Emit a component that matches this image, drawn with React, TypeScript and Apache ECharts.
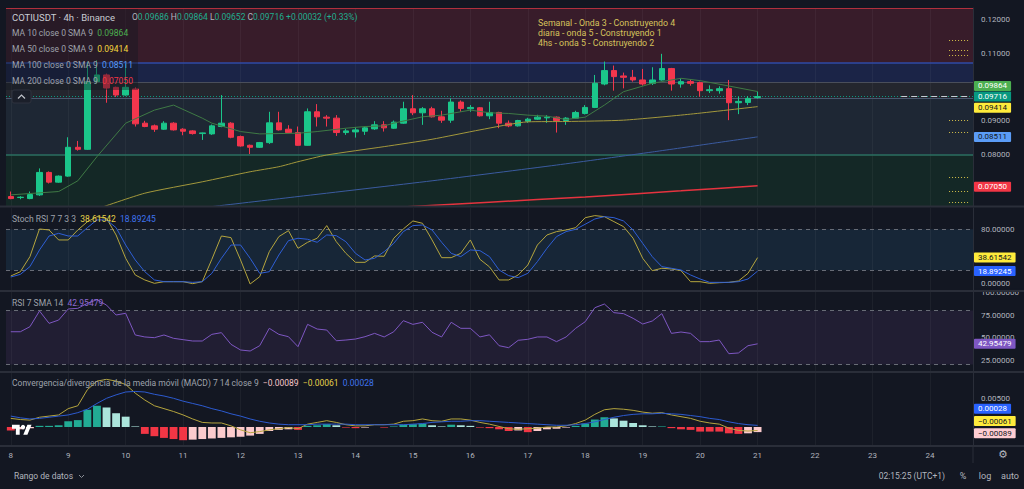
import React, { useEffect, useRef } from 'react';
import * as echarts from 'echarts';

const FONT = 'Roboto, "Noto Sans", sans-serif';

// ---------- data ----------
const dayLabels = ['8', '9', '10', '11', '12', '13', '14', '15', '16', '17', '18', '19', '20', '21', '22', '23', '24'];
const SLOTS_PER_DAY = 6;
const TOTAL_SLOTS = 101;

// [open, high, low, close] per 4h candle
const ohlc: number[][] = [
  [0.0673, 0.0688, 0.0665, 0.0667], [0.0670, 0.0674, 0.0665, 0.0671], [0.0667, 0.0688, 0.0665, 0.0679],
  [0.0678, 0.0757, 0.0675, 0.0745], [0.0745, 0.0748, 0.0712, 0.0716], [0.0716, 0.0736, 0.0714, 0.0734],
  [0.0734, 0.0850, 0.0732, 0.0820], [0.0820, 0.0839, 0.0810, 0.0814], [0.0814, 0.1075, 0.0812, 0.1016],
  [0.1016, 0.1080, 0.1010, 0.1036], [0.1036, 0.1040, 0.0953, 0.0997], [0.0999, 0.1001, 0.0970, 0.0976],
  [0.0976, 0.1070, 0.0974, 0.0999], [0.0994, 0.0999, 0.0882, 0.0890], [0.0892, 0.0899, 0.0880, 0.0882],
  [0.0884, 0.0888, 0.0866, 0.0874], [0.0874, 0.0898, 0.0872, 0.0892], [0.0892, 0.0895, 0.0870, 0.0872],
  [0.0874, 0.0877, 0.0856, 0.0868], [0.0869, 0.0871, 0.0858, 0.0861], [0.0861, 0.0864, 0.0842, 0.0863],
  [0.0860, 0.0888, 0.0857, 0.0884], [0.0882, 0.0976, 0.0880, 0.0892], [0.0892, 0.0895, 0.0847, 0.0850],
  [0.0852, 0.0855, 0.0822, 0.0824], [0.0826, 0.0828, 0.0800, 0.0820], [0.0820, 0.0836, 0.0818, 0.0834],
  [0.0834, 0.0926, 0.0830, 0.0893], [0.0893, 0.0926, 0.0870, 0.0872], [0.0874, 0.0886, 0.0862, 0.0864],
  [0.0864, 0.0882, 0.0825, 0.0826], [0.0826, 0.0936, 0.0825, 0.0926], [0.0926, 0.0949, 0.0882, 0.0911],
  [0.0910, 0.0916, 0.0882, 0.0907], [0.0907, 0.0916, 0.0854, 0.0864], [0.0864, 0.0875, 0.0857, 0.0869],
  [0.0866, 0.0880, 0.0849, 0.0872], [0.0868, 0.0882, 0.0857, 0.0878], [0.0875, 0.0898, 0.0872, 0.0887],
  [0.0887, 0.0898, 0.0867, 0.0878], [0.0877, 0.0900, 0.0875, 0.0895], [0.0892, 0.0956, 0.0890, 0.0935],
  [0.0935, 0.0976, 0.0916, 0.0923], [0.0923, 0.0940, 0.0887, 0.0935], [0.0935, 0.0941, 0.0909, 0.0911],
  [0.0911, 0.0929, 0.0893, 0.0901], [0.0901, 0.0966, 0.0893, 0.0955], [0.0955, 0.0960, 0.0926, 0.0936],
  [0.0935, 0.0946, 0.0926, 0.0939], [0.0938, 0.0940, 0.0912, 0.0914], [0.0914, 0.0956, 0.0904, 0.0924],
  [0.0924, 0.0926, 0.0877, 0.0892], [0.0892, 0.0900, 0.0880, 0.0884], [0.0884, 0.0902, 0.0882, 0.0900],
  [0.0898, 0.0908, 0.0893, 0.0904], [0.0904, 0.0917, 0.0902, 0.0910], [0.0908, 0.0916, 0.0893, 0.0910],
  [0.0910, 0.0912, 0.0864, 0.0900], [0.0900, 0.0910, 0.0887, 0.0907], [0.0907, 0.0929, 0.0905, 0.0924],
  [0.0921, 0.0946, 0.0918, 0.0939], [0.0939, 0.1036, 0.0937, 0.1011], [0.1009, 0.1076, 0.1005, 0.1049],
  [0.1049, 0.1064, 0.0989, 0.1031], [0.1033, 0.1043, 0.0996, 0.1029], [0.1029, 0.1051, 0.1016, 0.1021],
  [0.1021, 0.1054, 0.1004, 0.1009], [0.1011, 0.1059, 0.1006, 0.1021], [0.1021, 0.1099, 0.1019, 0.1055],
  [0.1055, 0.1057, 0.0989, 0.1009], [0.1009, 0.1026, 0.0998, 0.1016], [0.1016, 0.1023, 0.1004, 0.1011],
  [0.1013, 0.1016, 0.0971, 0.0989], [0.0989, 0.1005, 0.0982, 0.0992], [0.0989, 0.1002, 0.0980, 0.0995],
  [0.0995, 0.1021, 0.0901, 0.0953], [0.0953, 0.0971, 0.0919, 0.0957], [0.0954, 0.0973, 0.0946, 0.0966],
  [0.09686, 0.09864, 0.09652, 0.09716],
];

// moving averages: [candle index, value]
const ma10: number[][] = [
  [0, 0.0678], [5, 0.0688], [7, 0.0720], [9, 0.0792], [12, 0.0892], [15, 0.0931], [17, 0.0946], [20, 0.0907],
  [21, 0.0892], [24, 0.0867], [26, 0.0860], [30, 0.0862], [32, 0.0867], [35, 0.0877], [37, 0.0882], [39, 0.0884],
  [40, 0.0892], [43, 0.0911], [45, 0.0916], [48, 0.0931], [50, 0.0923], [52, 0.0921], [54, 0.0916], [56, 0.0913],
  [58, 0.0903], [60, 0.0910], [62, 0.0946], [64, 0.0986], [67, 0.1011], [70, 0.1026], [72, 0.1019], [75, 0.1003],
  [77, 0.0992], [78, 0.09864],
];
const ma50: number[][] = [
  [9, 0.0636], [14, 0.0683], [20, 0.0717], [25, 0.0747], [28, 0.0762], [30, 0.0777], [33, 0.0797], [39, 0.0822],
  [44, 0.0844], [49, 0.0872], [54, 0.0896], [58, 0.0897], [64, 0.0901], [71, 0.0919], [78, 0.09414],
];
const ma100: number[][] = [[19, 0.0637], [21, 0.0643], [30, 0.0673], [44, 0.0720], [57, 0.0767], [67, 0.0806], [78, 0.08511]];
const ma200: number[][] = [[40, 0.0640], [50, 0.0656], [60, 0.0672], [70, 0.0690], [78, 0.0705]];

const stochK = [
  11.7, 18, 40, 80.5, 79, 64.4, 64.4, 79, 91, 98.5,
  96, 71.7, 37.6, 13.2, 5.9, 1, 3.4, 3.4, 3.4, 0.5,
  3.4, 36.1, 70.2, 67.8, 35.1, 0, 10.7, 47.3, 69.3, 78,
  52.2, 61, 66.9, 85.4, 61.9, 44.9, 31.7, 31.7, 41, 40.5,
  66.9, 80.5, 92.2, 88.8, 64.4, 38.5, 38.5, 44.9, 64.4, 36.1,
  25, 5.9, 5.9, 13.2, 27.8, 57, 71.7, 76.6, 79, 82.4,
  97, 100, 98.5, 91.2, 83.9, 66.9, 37.6, 19.5, 23, 22,
  19.5, 3.4, 3.4, 1, 1.9, 2.4, 4.4, 15.6, 38.61542,
];
const stochD = [
  10.2, 14.1, 25.4, 49.8, 70.2, 74.1, 70.2, 70.2, 82.4, 93.7,
  93.7, 82.4, 57, 35.1, 18, 5.9, 3.4, 3.4, 3.4, 2.4,
  3.4, 15.6, 37.6, 57, 57, 37.6, 15.6, 18, 42.4, 63.4,
  66.9, 65.4, 61, 71.7, 70.7, 61.9, 44.9, 35.1, 37.6, 47.3,
  59.5, 76.6, 85.4, 86.3, 79, 61, 44.9, 40, 49.8, 48.8,
  40, 20.5, 12.2, 9.3, 15.6, 32.7, 52.2, 69.3, 76.6, 80,
  87.4, 95.1, 98.5, 97, 92.2, 79, 59.5, 40, 25.4, 23,
  20.5, 13.2, 7.3, 2.4, 2.4, 2.4, 3.4, 7.3, 18.89245,
];
const rsi = [
  56.4, 56.4, 62.0, 79.4, 65.7, 69.4, 81.7, 82.4, 88, 92,
  86, 75.0, 76.9, 52.8, 50.6, 49.8, 52.8, 49.1, 47.6, 46.1,
  46.1, 53.5, 55.4, 42.4, 36.1, 35.0, 40.9, 60.2, 53.5, 50.9,
  39.8, 64.6, 59.4, 58.3, 46.4, 47.2, 48.3, 50.9, 54.6, 50.6,
  56.4, 68.7, 64.6, 66.9, 55.8, 50.6, 66.9, 60.2, 60.2, 50.6,
  53.0, 40.9, 38.7, 46.9, 48.0, 50.6, 50.6, 45.4, 50.6, 60.2,
  67.6, 83.1, 87.2, 77.6, 76.5, 71.3, 65.0, 68.3, 76.5, 54.6,
  56.1, 54.6, 45.4, 45.4, 47.2, 32.0, 32.8, 40.9, 42.95479,
];
const macdLine = [
  0.0015, 0.0013, 0.0012, 0.0017, 0.0019, 0.0021, 0.0032, 0.0037, 0.0065, 0.0080,
  0.0083, 0.0080, 0.0074, 0.0059, 0.0047, 0.0037, 0.0032, 0.0027, 0.0021, 0.0014,
  0.0008, 0.0007, 0.0007, 0.0002, -0.0005, -0.0010, -0.0008, -0.0005, -0.0003, -0.0001,
  -0.0003, 0.0005, 0.0008, 0.0011, 0.0008, 0.0004, 0.0002, 0.0002, 0.0004, 0.0004,
  0.0005, 0.0010, 0.0011, 0.0014, 0.0011, 0.0010, 0.0014, 0.0014, 0.0012, 0.0008,
  0.0005, 0.0001, -0.0003, -0.0004, -0.0003, -0.0002, 0.0000, 0.0000, 0.0002, 0.0006,
  0.0012, 0.0022, 0.0030, 0.0032, 0.0031, 0.0029, 0.0026, 0.0024, 0.0025, 0.0021,
  0.0018, 0.0015, 0.0010, 0.0007, 0.0005, -0.0002, -0.0006, -0.0007, -0.00061,
];
const macdSignal = [
  0.0019, 0.0016, 0.0014, 0.0015, 0.0017, 0.0019, 0.0021, 0.0025, 0.0031, 0.0041,
  0.0050, 0.0056, 0.0061, 0.0062, 0.0061, 0.0057, 0.0054, 0.0050, 0.0045, 0.0041,
  0.0037, 0.0032, 0.0028, 0.0023, 0.0019, 0.0014, 0.0010, 0.0007, 0.0005, 0.0004,
  0.0004, 0.0004, 0.0005, 0.0005, 0.0005, 0.0005, 0.0004, 0.0004, 0.0004, 0.0004,
  0.0004, 0.0004, 0.0005, 0.0006, 0.0008, 0.0009, 0.0010, 0.0010, 0.0011, 0.0011,
  0.0010, 0.0009, 0.0008, 0.0007, 0.0006, 0.0005, 0.0004, 0.0003, 0.0003, 0.0004,
  0.0006, 0.0009, 0.0013, 0.0017, 0.0020, 0.0022, 0.0023, 0.0023, 0.0024, 0.0023,
  0.0022, 0.0020, 0.0018, 0.0015, 0.0013, 0.0009, 0.0006, 0.0004, 0.00028,
];
const macdHist = [
  -0.0006, -0.0004, -0.0002, 0.0002, 0.0002, 0.0003, 0.0010, 0.0012, 0.0030, 0.0037,
  0.0034, 0.0024, 0.0018, 0.0001, -0.0012, -0.0016, -0.0019, -0.0021, -0.0023, -0.0022,
  -0.0021, -0.0020, -0.0019, -0.0018, -0.0017, -0.0015, -0.0012, -0.0007, -0.0005, -0.0004,
  -0.0005, 0.0002, 0.0003, 0.0005, 0.0003, -0.0001, -0.0002, -0.0001, 0.0000, -0.0001,
  0.0001, 0.0004, 0.0005, 0.0006, 0.0003, 0.0001, 0.0004, 0.0003, 0.0002, -0.0001,
  -0.0002, -0.0004, -0.0007, -0.0006, -0.0009, -0.0007, -0.0004, -0.0003, -0.0001, 0.0002,
  0.0006, 0.0013, 0.0017, 0.0015, 0.0011, 0.0007, 0.0003, 0.0001, 0.0001, -0.0002,
  -0.0004, -0.0005, -0.0008, -0.0008, -0.0008, -0.0011, -0.0012, -0.0011, -0.00089,
];

// horizontal drawing levels (price) on the main pane
const zoneLevels = [0.12355, 0.10716, 0.10149, 0.09657, 0.0797];
const rightRayLevels = [0.11382, 0.11084, 0.10955, 0.08994, 0.08648, 0.07304, 0.06875, 0.06546];

// ---------- helpers ----------
const categories: string[] = [];
dayLabels.forEach((d) => {
  for (let h = 0; h < SLOTS_PER_DAY; h++) categories.push(`${d} ${String(h * 4).padStart(2, '0')}:00`);
});
categories.length = TOTAL_SLOTS;

const candleData = ohlc.map(([o, h, l, c]) => [o, c, l, h]);

const dayLines = dayLabels.map((_, k) => ({
  xAxis: k * SLOTS_PER_DAY,
  lineStyle: { color: 'rgba(255,255,255,0.045)', width: 1, type: 'solid' },
  label: { show: false },
}));

const badge = (pos: number, text: string, bg: string, fg: string) => ({
  yAxis: pos,
  lineStyle: { color: 'rgba(0,0,0,0)', width: 0 },
  label: {
    show: true, position: 'end', distance: 1, formatter: text, backgroundColor: bg, color: fg,
    padding: [1, 4, 1, 4], fontSize: 8, fontFamily: FONT, borderRadius: 1,
  },
});

const histColor = (i: number) => {
  const v = macdHist[i];
  const p = i > 0 ? macdHist[i - 1] : v;
  if (v >= 0) return v >= p ? '#22ab94' : '#ace5dc';
  return v <= p ? '#f23645' : '#fccbcd';
};

echarts.graphic.registerShape(
  'tvlogo',
  echarts.graphic.extendPath('M14 25H7V14H0V7h14v18zM28 25h-7.5L28 7h7.5L28 25z', {}) as any,
);

const LEFT = 6;
const RIGHT = 51;
const grids = [
  { left: LEFT, right: RIGHT, top: 8, height: 198 },
  { left: LEFT, right: RIGHT, top: 208, height: 82 },
  { left: LEFT, right: RIGHT, top: 292, height: 79 },
  { left: LEFT, right: RIGHT, top: 373, height: 72 },
];

const xAxisFor = (g: number) => ({
  type: 'category', gridIndex: g, data: categories, boundaryGap: true,
  axisLine: { show: false }, axisTick: { show: false }, splitLine: { show: false },
  axisLabel: g === 3
    ? {
      show: true, interval: 0, color: '#b2b5be', fontSize: 8, margin: 6, fontFamily: FONT,
      formatter: (_v: string, i: number) => (i % SLOTS_PER_DAY === 0 ? dayLabels[i / SLOTS_PER_DAY] : ''),
    }
    : { show: false },
});

const yAxisFor = (g: number, min: number, max: number, custom: number[]) => ({
  type: 'value', gridIndex: g, position: 'right', min, max,
  splitLine: { show: false }, axisTick: { show: false },
  axisLine: { show: true, lineStyle: { color: '#2a2e39' } },
  axisLabel: {
    customValues: custom, color: '#b2b5be', fontSize: 8, margin: 8, fontFamily: FONT,
    formatter: (v: number) => v.toFixed(5),
  },
});

const txt = (x: number, y: number, text: string, rich: any, extra: any = {}) => ({
  type: 'text', x, y, z: 100, silent: true,
  style: { text, rich, verticalAlign: 'middle', fontSize: 8.5, fontFamily: FONT, fill: '#9ea2ab', ...extra },
});
const r = (fill: string, size = 8.5) => ({ fill, fontSize: size, fontFamily: FONT });

const option: any = {
  animation: false,
  backgroundColor: '#131722',
  textStyle: { fontFamily: FONT },
  grid: grids,
  xAxis: [0, 1, 2, 3].map(xAxisFor),
  yAxis: [
    yAxisFor(0, 0.064478, 0.123582, [0.08, 0.09, 0.11, 0.12]),
    yAxisFor(1, -8.78, 111.15, [0, 80]),
    yAxisFor(2, 12.78, 100.56, [25, 50, 75, 100]),
    yAxisFor(3, -0.003136, 0.009408, [0.005]),
  ],
  series: [
    {
      type: 'candlestick', xAxisIndex: 0, yAxisIndex: 0, data: candleData, barWidth: 6,
      itemStyle: { color: '#1bc68a', color0: '#f2364d', borderColor: '#1bc68a', borderColor0: '#f2364d', borderWidth: 1 },
      markArea: {
        silent: true, z: 0, precision: 6,
        data: [
          [{ yAxis: zoneLevels[0], itemStyle: { color: '#381c2a' } }, { yAxis: zoneLevels[1] }],
          [{ yAxis: zoneLevels[1], itemStyle: { color: '#1b2447' } }, { yAxis: zoneLevels[2] }],
          [{ yAxis: zoneLevels[2], itemStyle: { color: '#24262e' } }, { yAxis: zoneLevels[3] }],
          [{ yAxis: zoneLevels[3], itemStyle: { color: '#1e2734' } }, { yAxis: zoneLevels[4] }],
          [{ yAxis: zoneLevels[4], itemStyle: { color: '#142826' } }, { yAxis: 0.0645 }],
        ],
      },
      markLine: {
        silent: true, z: 1, precision: 6, symbol: ['none', 'none'],
        data: [
          ...dayLines,
          { yAxis: zoneLevels[0], lineStyle: { color: '#b0303d', width: 1, type: 'solid' }, label: { show: false } },
          { yAxis: zoneLevels[1], lineStyle: { color: '#2f4aa6', width: 1.5, type: 'solid' }, label: { show: false } },
          { yAxis: zoneLevels[2], lineStyle: { color: '#4a4e5a', width: 1, type: 'solid' }, label: { show: false } },
          { yAxis: zoneLevels[3], lineStyle: { color: '#4a5870', width: 1, type: 'solid' }, label: { show: false } },
          { yAxis: zoneLevels[4], lineStyle: { color: '#2b6f61', width: 1.5, type: 'solid' }, label: { show: false } },
          { yAxis: 0.09716, lineStyle: { color: '#089981', width: 1, type: [1, 2] }, label: { show: false } },
          [
            { coord: [93, 0.09716], lineStyle: { color: '#c8ccd4', width: 1, type: [6, 4] }, label: { show: false } },
            { coord: [100, 0.09716] },
          ],
          ...rightRayLevels.map((p) => [
            { coord: [98, p], lineStyle: { color: '#d4c04a', width: 1, type: [1, 2] }, label: { show: false } },
            { coord: [100, p] },
          ]),
          badge(0.1003, '0.09864', '#4caf50', '#ffffff'),
          badge(0.09716, '0.09716', '#089981', '#ffffff'),
          badge(0.09382, '0.09414', '#ffeb3b', '#131722'),
          badge(0.08511, '0.08511', '#5b9cf6', '#131722'),
          badge(0.0702, '0.07050', '#f23645', '#ffffff'),
        ],
      },
    },
    { type: 'line', xAxisIndex: 0, yAxisIndex: 0, data: ma10, showSymbol: false, lineStyle: { color: '#3f7a45', width: 1 } },
    { type: 'line', xAxisIndex: 0, yAxisIndex: 0, data: ma50, showSymbol: false, smooth: 0.2, lineStyle: { color: '#a3983c', width: 1 } },
    { type: 'line', xAxisIndex: 0, yAxisIndex: 0, data: ma100, showSymbol: false, smooth: 0.2, lineStyle: { color: '#3b5ba0', width: 1 } },
    { type: 'line', xAxisIndex: 0, yAxisIndex: 0, data: ma200, showSymbol: false, smooth: 0.2, lineStyle: { color: '#e5333f', width: 1.5 } },
    {
      type: 'line', xAxisIndex: 1, yAxisIndex: 1, data: stochK, showSymbol: false, lineStyle: { color: '#b5a53e', width: 1 },
      markArea: { silent: true, z: 0, precision: 6, data: [[{ yAxis: 80, itemStyle: { color: '#172637' } }, { yAxis: 20 }]] },
      markLine: {
        silent: true, z: 1, precision: 6, symbol: ['none', 'none'],
        data: [
          ...dayLines,
          { yAxis: 80, lineStyle: { color: '#686c76', width: 1, type: [4, 4] }, label: { show: false } },
          { yAxis: 20, lineStyle: { color: '#686c76', width: 1, type: [4, 4] }, label: { show: false } },
          badge(38.61542, '38.61542', '#ffeb3b', '#131722'),
          badge(18.89245, '18.89245', '#2962ff', '#ffffff'),
        ],
      },
    },
    { type: 'line', xAxisIndex: 1, yAxisIndex: 1, data: stochD, showSymbol: false, lineStyle: { color: '#2f5fd6', width: 1 } },
    {
      type: 'line', xAxisIndex: 2, yAxisIndex: 2, data: rsi, showSymbol: false, lineStyle: { color: '#7e57c2', width: 1 },
      markArea: { silent: true, z: 0, precision: 6, data: [[{ yAxis: 80, itemStyle: { color: '#211e33' } }, { yAxis: 20 }]] },
      markLine: {
        silent: true, z: 1, precision: 6, symbol: ['none', 'none'],
        data: [
          ...dayLines,
          { yAxis: 80, lineStyle: { color: '#686c76', width: 1, type: [4, 4] }, label: { show: false } },
          { yAxis: 20, lineStyle: { color: '#686c76', width: 1, type: [4, 4] }, label: { show: false } },
          badge(42.95479, '42.95479', '#7e57c2', '#ffffff'),
        ],
      },
    },
    {
      type: 'bar', xAxisIndex: 3, yAxisIndex: 3, barWidth: '82%',
      data: macdHist.map((v, i) => ({ value: v, itemStyle: { color: histColor(i) } })),
      markLine: {
        silent: true, z: 1, precision: 6, symbol: ['none', 'none'],
        data: [
          ...dayLines,
          badge(0.00316, '0.00028', '#2962ff', '#ffffff'),
          badge(0.00103, '\u22120.00061', '#ffeb3b', '#131722'),
          badge(-0.00110, '\u22120.00089', '#ffcdd2', '#131722'),
        ],
      },
    },
    { type: 'line', xAxisIndex: 3, yAxisIndex: 3, data: macdLine, showSymbol: false, lineStyle: { color: '#b5a53e', width: 1 } },
    { type: 'line', xAxisIndex: 3, yAxisIndex: 3, data: macdSignal, showSymbol: false, lineStyle: { color: '#2d5bd0', width: 1 } },
  ],
  graphic: [
    // pane separators
    ...[206.5, 291, 372, 446].map((y) => ({
      type: 'line', z: 90, silent: true, shape: { x1: 0, y1: y, x2: 1024, y2: y },
      style: { stroke: '#2a2e39', lineWidth: 2 },
    })),
    { type: 'rect', z: 89, silent: true, shape: { x: 974, y: 288.5, width: 50, height: 3 }, style: { fill: '#131722' } },
    { type: 'line', z: 90, silent: true, shape: { x1: 973, y1: 446, x2: 973, y2: 463 }, style: { stroke: '#2a2e39', lineWidth: 1 } },
    // legend box
    { type: 'rect', z: 95, silent: true, shape: { x: 6, y: 9, width: 132, height: 81 }, style: { fill: 'rgba(19,23,34,0.42)' } },
    txt(12, 17, '{t|COTIUSDT · 4h · Binance}', { t: r('#c9ccd3', 9.5) }),
    txt(132, 17, '{g|O}{v|0.09686} {g|H}{v|0.09864} {g|L}{v|0.09652} {g|C}{v|0.09716} {v|+0.00032 (+0.33%)}', {
      g: r('#b2b5be'), v: r('#1fae8f'),
    }),
    txt(12, 33, '{l|MA 10 close 0 SMA 9}  {v|0.09864}', { l: r('#9ea2ab'), v: r('#4caf50') }),
    txt(12, 49, '{l|MA 50 close 0 SMA 9}  {v|0.09414}', { l: r('#9ea2ab'), v: r('#f5d63d') }),
    txt(12, 65, '{l|MA 100 close 0 SMA 9}  {v|0.08511}', { l: r('#9ea2ab'), v: r('#5b9cf6') }),
    txt(12, 81, '{l|MA 200 close 0 SMA 9}  {v|0.07050}', { l: r('#9ea2ab'), v: r('#f23645') }),
    // collapse button
    { type: 'rect', z: 96, silent: true, shape: { x: 12, y: 90, width: 19, height: 13, r: 2 }, style: { fill: '#1b1f2a', stroke: '#2f333e', lineWidth: 1 } },
    { type: 'polyline', z: 97, silent: true, shape: { points: [[18, 98.5], [21.5, 95], [25, 98.5]] }, style: { stroke: '#c0c3ca', lineWidth: 1.2, fill: 'none' } },
    // annotations
    txt(538, 23, 'Semanal - Onda 3 - Construyendo 4', null, { fill: '#d6c35c', fontSize: 8.8 }),
    txt(538, 33, 'diaria - onda 5 - Construyendo 1', null, { fill: '#d6c35c', fontSize: 8.8 }),
    txt(538, 42.5, '4hs - onda 5 - Construyendo 2', null, { fill: '#d6c35c', fontSize: 8.8 }),
    // indicator legends
    txt(12, 219, '{l|Stoch RSI 7 7 3 3}  {k|38.61542}  {d|18.89245}', { l: r('#9ea2ab'), k: r('#e6d04a'), d: r('#3f74f0') }),
    txt(12, 303, '{l|RSI 7 SMA 14}  {p|42.95479}', { l: r('#9ea2ab'), p: r('#8e6ad0') }),
    txt(12, 383, '{l|Convergencia/divergencia de la media móvil (MACD) 7 14 close 9}  {h|\u22120.00089}  {m|\u22120.00061}  {s|0.00028}', {
      l: r('#9ea2ab'), h: r('#f7c6c9'), m: r('#e6d04a'), s: r('#3f74f0'),
    }),
    // TradingView logo
    { type: 'tvlogo', z: 98, silent: true, x: 12, y: 421, scaleX: 0.55, scaleY: 0.55, style: { fill: '#ffffff' } },
    { type: 'circle', z: 98, silent: true, shape: { cx: 12 + 20 * 0.55, cy: 421 + 11 * 0.55, r: 4 * 0.55 }, style: { fill: '#ffffff' } },
    // bottom bar
    txt(14, 476, 'Rango de datos', null, { fill: '#b2b5be', fontSize: 8.5 }),
    { type: 'polyline', z: 97, silent: true, shape: { points: [[79, 475], [81.5, 477.5], [84, 475]] }, style: { stroke: '#8a8e97', lineWidth: 1, fill: 'none' } },
    txt(945, 476, '02:15:25 (UTC+1)', null, { fill: '#b2b5be', fontSize: 8.5, align: 'right' }),
    txt(963, 476, '%', null, { fill: '#b2b5be', fontSize: 9, align: 'center' }),
    txt(985, 476, 'log', null, { fill: '#b2b5be', fontSize: 9, align: 'center' }),
    txt(1010, 476, 'auto', null, { fill: '#b2b5be', fontSize: 9, align: 'center' }),
    txt(1003, 454, '\u2699', null, { fill: '#b2b5be', fontSize: 11, align: 'center', fontFamily: '"DejaVu Sans"' }),
  ],
};

export default function App() {
  const ref = useRef<HTMLDivElement>(null);
  useEffect(() => {
    document.body.style.margin = '0';
    const chart = echarts.init(ref.current as HTMLDivElement, undefined, { renderer: 'svg' });
    chart.setOption(option);
    return () => chart.dispose();
  }, []);
  return <div ref={ref} style={{ position: 'absolute', left: 0, top: 0, width: 1024, height: 489 }} />;
}
